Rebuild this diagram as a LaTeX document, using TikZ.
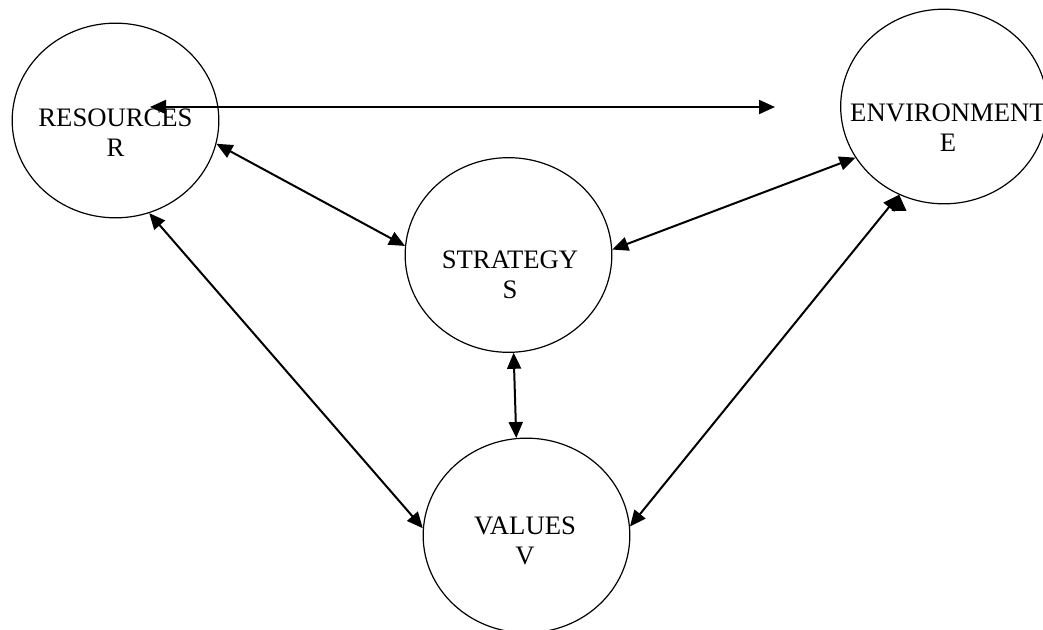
\documentclass[tikz,border=0pt]{standalone}
\usepackage{fontspec}
\setmainfont{Liberation Serif}
\usetikzlibrary{arrows.meta,shapes.geometric}
\tikzstyle{blob}=[ellipse, draw, line width=0.9pt, minimum width=155pt, minimum height=146pt, inner sep=0pt]
\tikzstyle{txt}=[align=center, inner sep=0pt, font=\fontsize{20}{22.5}\selectfont]
\tikzstyle{link}=[line width=1.5pt, <->, >={Triangle[length=12pt,width=10.5pt]}]

\begin{document}
\begin{tikzpicture}[x=0.75pt, y=-0.75pt]
			\useasboundingbox (0,0) rectangle (1043,630);
			\node[blob] (R) at (115.5, 120.5) {};
			\node[blob] (S) at (508.5, 255) {};
			\node[blob] (E) at (944, 106.5) {};
			\node[blob] (V) at (526.5, 535.5) {};
			\node[txt] (Rt) at (115.5, 133) {RESOURCES\\R};
			\node[txt] (St) at (510, 275) {STRATEGY\\S};
			\node[txt] (Et) at (948, 128) {ENVIRONMENT\\E};
			\node[txt] (Vt) at (525, 541) {VALUES\\V};
			\coordinate (h1) at (150, 107);
			\coordinate (h2) at (775, 107);
			\draw[link] (h1)edge(h2) (R.-13)edge(S.175) (R.-70)edge(V.176) (S.3)edge(E.210) (S.-87)edge(V.96) (E.243)edge(V.5)  ;
		\end{tikzpicture}
\end{document}
